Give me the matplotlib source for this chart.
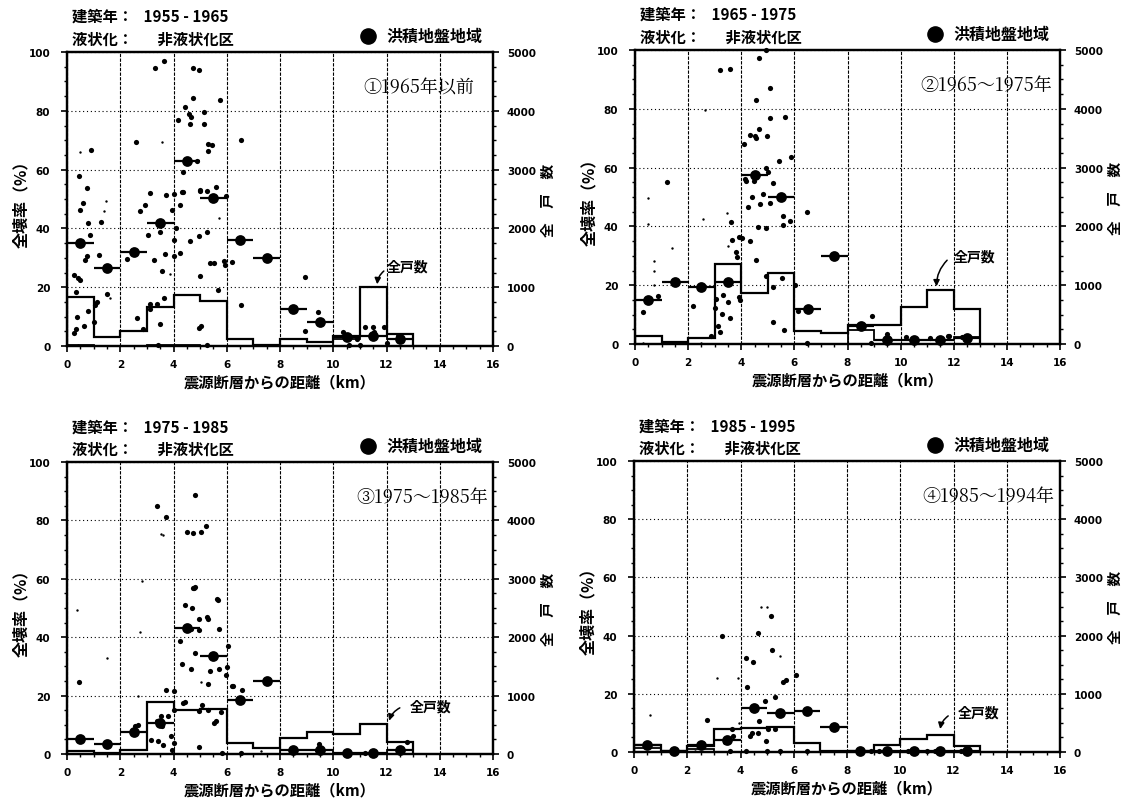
import matplotlib
matplotlib.use('Agg')
import matplotlib.pyplot as plt
from matplotlib.ticker import MultipleLocator

plt.rcParams['font.family'] = ['Noto Sans CJK JP', 'DejaVu Sans']

# ---------------- data ----------------
bin_edges = [0, 1, 2, 3, 4, 5, 6, 7, 8, 9, 10, 11, 12, 13]   # km

years = ["1955 - 1965", "1965 - 1975", "1975 - 1985", "1985 - 1995"]
period_labels = ["①1965年以前", "②1965～1975年", "③1975～1985年", "④1985～1994年"]

# mean total-collapse rate per 1-km bin (%)
mean_p1 = [35, 26.5, 32, 42, 63, 50.5, 36, 30, 12.5, 8, 3, 3.5, 2.5]
mean_p2 = [15, 21, 19.5, 21, 57.5, 50, 12, 30, 6, 1.5, 1.5, 1.5, 2]
mean_p3 = [5, 3.5, 7.5, 10.5, 43, 33.5, 18.5, 25, 1.5, 1.2, 0.5, 0.5, 1.5]
mean_p4 = [2.5, 0.2, 2.5, 4, 15, 13.5, 14, 8.5, 0.5, 0.5, 0.3, 0.5, 0.5]

# total households per bin (right axis)
house_p1 = [840, 155, 260, 670, 870, 765, 120, 20, 120, 75, 170, 1000, 200]
house_p2 = [130, 30, 100, 1360, 860, 1205, 220, 185, 315, 325, 625, 920, 600]
house_p3 = [50, 15, 60, 885, 750, 770, 185, 100, 270, 375, 345, 520, 200]
house_p4 = [120, 10, 100, 395, 420, 435, 150, 25, 15, 125, 225, 300, 100]

# households in diluvial-ground area per bin (right axis)
dil_p1 = [10, 5, 5, 10, 10, 5, 5, 5, 5, 5, 120, 170, 120]
dil_p2 = [5, 5, 5, 5, 5, 5, 5, 5, 240, 60, 75, 75, 125]
dil_p3 = [5, 5, 5, 5, 5, 5, 5, 5, 75, 75, 25, 25, 75]
dil_p4 = [70, 5, 60, 5, 5, 5, 5, 5, 5, 5, 5, 5, 5]

# district points: distance (km), total-collapse rate (%)
p1_x = [3.31, 3.66, 4.75, 4.97, 4.75, 5.73, 4.44, 5.15, 4.16, 4.6, 4.65, 4.62, 5.15, 6.53, 5.31, 5.45, 5.31,
        2.6, 0.89, 0.45, 0.74, 3.12, 3.71, 4.0, 4.37, 4.37, 5.0, 5.25, 5.6, 5.98, 4.9,
        0.59, 0.48, 0.78, 1.28, 0.86, 0.74, 0.69, 0.26, 0.41, 0.49, 1.19, 0.34, 1.49, 1.12, 1.07, 0.78,
        0.38, 1.02, 0.34, 0.65, 0.26,
        2.24, 2.47, 2.74, 2.93, 3.28, 3.5, 3.06, 3.68, 3.56, 4.0, 3.94, 4.09, 4.0, 3.12, 3.12, 3.39, 3.65,
        3.5, 2.62, 2.87, 3.4,
        4.25, 4.31, 4.25, 4.62, 4.94, 5.25, 5.0, 5.38, 5.53, 5.88, 5.94, 5.69, 5.0, 4.97, 5.05, 5.25,
        6.21, 6.53, 8.95, 8.95, 9.42, 9.55, 10.36, 11.2, 11.54, 11.89, 10.89, 12.43, 12.0, 11.49, 10.6, 11.0]
p1_y = [94.4, 97, 94.4, 93.9, 84.5, 83.6, 81.4, 79.7, 76.8, 78.9, 78, 75.4, 75.4, 70, 68.7, 68.2, 66.4,
        69.3, 66.8, 57.7, 53.6, 52, 51.4, 51.8, 52.5, 59.3, 53, 52.6, 54, 50.9, 62.8,
        48.6, 46.3, 42, 42.3, 37.9, 30.5, 29.2, 24.1, 23.2, 22.6, 30.8, 18.5, 17.7, 15.1, 14, 12,
        9.8, 8.1, 5.8, 6.9, 4.3,
        29.6, 32.8, 45.8, 48.1, 29.4, 38.7, 37.8, 31.3, 25.6, 30.5, 46.4, 40.1, 36, 14.3, 12.6, 14.2, 16.2,
        7.5, 9.4, 5.8, 0.3,
        31.5, 52.5, 47.8, 35.8, 37.5, 38.7, 52.8, 28.4, 28.4, 29, 27.6, 19, 23.7, 6.2, 6.9, 0.3,
        28.7, 14, 23.6, 5.2, 11.5, 7.5, 4.6, 6.3, 4.9, 6.3, 2.4, 3.3, 1, 6.6, 0.3, 0.5]
p1_sx = [3.55, 0.49, 1.47, 1.4, 1.62, 5.7, 3.88, 0.4]
p1_sy = [69.3, 65.9, 49.2, 46, 16.2, 43.5, 24.5, 0.2]

p2_x = [3.2, 3.58, 4.68, 4.92, 5.08, 4.56, 5.65, 5.08, 4.68, 4.33, 4.52, 4.57, 4.96, 4.12, 5.87, 5.43, 4.93,
        5.0, 5.21, 4.18, 1.19, 4.83,
        4.14, 4.49, 4.39, 4.71, 5.08, 5.58, 5.84, 5.56, 4.24, 4.64, 4.92, 4.33, 4.02, 4.56, 4.92, 5.52, 5.21,
        5.18, 5.62, 6.02, 6.46, 6.15, 6.46,
        3.61, 3.66, 3.92, 3.79, 3.83, 3.3, 3.51, 3.05, 3.02, 3.26, 3.58, 3.14, 3.2, 2.85, 3.93, 3.95, 2.2,
        0.31, 0.88,
        8.91, 8.45, 9.5, 9.45, 10.2, 11.1, 11.47, 11.82, 12.3, 12.47, 8.9, 10.5, 10.48, 11.48, 11.8]
p2_y = [93.2, 93.5, 97.3, 100, 87, 82.9, 77.2, 76.8, 73.1, 71.1, 70.6, 70, 70.9, 68, 63.5, 62.3, 59.9,
        58.5, 54.7, 55.5, 55.2, 51,
        56, 55.5, 49.9, 47.6, 48, 43.6, 41.9, 40.6, 46.5, 39.9, 39.4, 35.1, 35.9, 28.6, 23, 22.6, 19.3,
        7.4, 4.8, 20.1, 44.8, 11.3, 0.5,
        41.4, 35.5, 36.3, 31.4, 29.5, 16.8, 14.4, 15.3, 12.1, 10.2, 8.7, 6.2, 4.2, 2.8, 15.9, 15, 13,
        11, 16.4,
        9.6, 6.5, 3.4, 1, 2.3, 1.9, 1.9, 2.6, 2.3, 2.3, 0.3, 1, 0.6, 1.7, 2.8]
p2_sx = [2.64, 0.5, 3.45, 3.49, 2.55, 1.39, 0.73, 0.73, 0.73, 0.5, 0.3, 2.5]
p2_sy = [79.6, 49.6, 44.4, 33.2, 42.5, 32.8, 28.3, 24.7, 20, 40.8, 0.2, 0.3]

p3_x = [3.37, 3.72, 4.82, 4.5, 4.72, 5.04, 5.21, 4.75, 4.82, 5.65, 0.46, 2.68, 4.44, 4.69, 4.77, 4.94, 5.25,
        5.31, 5.69, 5.71, 4.25, 4.67, 4.81, 4.96, 4.31, 4.65, 5.38, 5.71, 6.0, 5.97, 6.04, 5.31, 4.35,
        4.44, 5.06, 4.97, 5.31, 5.78, 5.6, 5.52, 4.97, 5.83, 6.19, 6.25, 6.59, 6.53, 3.71, 4.03, 4.0,
        3.81, 3.53, 3.37, 3.55, 3.16, 3.41, 3.62, 3.9, 4.0, 3.96, 2.56, 9.48, 9.58, 12.77, 8.5, 9.4,
        10.5, 11.2, 11.5, 12.5]
p3_y = [85, 81.2, 88.6, 76.1, 75.8, 76.1, 78.2, 57, 57.1, 53, 24.6, 9.9, 51, 49.9, 56.8, 46.2, 47,
        46.3, 52.8, 42.8, 38.7, 42.9, 34.5, 42.5, 30.7, 29.1, 28.5, 29.1, 29.7, 27.2, 37.1, 23.9, 17.5,
        17.8, 16.8, 14.8, 15, 14.5, 11.4, 10.7, 2.5, 0.5, 23.2, 23.2, 21.9, 0.3, 21.9, 21.5, 15.2,
        13.1, 12.9, 11.4, 9.7, 4.9, 4.6, 3.2, 6.1, 3.6, 1.4, 9.7, 3.4, 1.7, 4, 1.5, 1.2,
        0.3, 0.5, 0.3, 1.0]
p3_sx = [3.53, 3.6, 2.81, 0.36, 1.49, 2.74, 2.67, 5.04, 7.3]
p3_sy = [75.3, 75, 59.4, 49.4, 32.8, 41.7, 19.7, 24.5, 1]

p4_x = [2.76, 3.32, 4.21, 4.46, 4.26, 5.15, 4.65, 5.18, 5.61, 5.7, 6.08, 5.3, 4.92, 4.71, 4.52, 3.67, 3.71,
        4.36, 4.42, 4.67, 4.96, 5.05, 5.28, 3.52, 3.4, 3.6, 4.2, 5.0, 5.5, 6.5, 8.9, 9.2, 10.3, 11.0,
        11.3, 12.3]
p4_y = [11.1, 40, 32.3, 30.8, 22.2, 46.8, 40.8, 35.2, 24, 24.8, 26.6, 19, 17.6, 10.8, 15, 7.9, 5.4,
        5.6, 6.6, 6.4, 3.9, 7.9, 7.9, 4.5, 3.5, 0.3, 0.2, 0.2, 0.2, 0.3, 0.2, 0.3, 0.2, 0.2,
        0.3, 0.3]
p4_sx = [0.6, 3.13, 3.92, 4.76, 5.0, 5.49, 3.96, 1.5, 2.3]
p4_sy = [12.7, 25.3, 25.3, 49.9, 49.9, 33, 10, 0.2, 0.5]

# annotation "全戸数": text centre, arrow start and arrow tip (km, %)
note_text_xy = [(12.8, 27.2), (12.8, 29.6), (13.65, 16.1), (12.95, 13.7)]
note_start_xy = [(11.9, 25.5), (11.75, 28.5), (12.5, 15.8), (11.8, 12.4)]
note_tip_xy = [(11.65, 21), (11.35, 19.6), (12.1, 11.4), (11.5, 7.9)]

# ---------------- drawing ----------------
W, H = 1136, 804
fig = plt.figure(figsize=(W / 100, H / 100), dpi=100)

# axes rectangles in pixels: left, top, right, bottom
rects = [(67, 53, 493, 347), (635, 51, 1060, 345), (67, 463, 493, 755), (634, 462, 1060, 753)]
label_x = [15.3, 15.7, 15.8, 15.8]

panels = [
    (mean_p1, house_p1, dil_p1, p1_x, p1_y, p1_sx, p1_sy),
    (mean_p2, house_p2, dil_p2, p2_x, p2_y, p2_sx, p2_sy),
    (mean_p3, house_p3, dil_p3, p3_x, p3_y, p3_sx, p3_sy),
    (mean_p4, house_p4, dil_p4, p4_x, p4_y, p4_sx, p4_sy),
]

bold = dict(fontweight='bold')

for i, (rect, pdata) in enumerate(zip(rects, panels)):
    l, t, r, b = rect
    ax = fig.add_axes([l / W, 1 - b / H, (r - l) / W, (b - t) / H])
    mean, house, dil, px, py, sx, sy = pdata

    ax.set_xlim(0, 16)
    ax.set_ylim(0, 100)
    ax.xaxis.set_major_locator(MultipleLocator(2))
    ax.xaxis.set_minor_locator(MultipleLocator(0.5))
    ax.yaxis.set_major_locator(MultipleLocator(20))
    ax.yaxis.set_minor_locator(MultipleLocator(5))
    ax.tick_params(axis='both', which='major', direction='out', length=4, width=1.2, labelsize=7.5)
    ax.tick_params(axis='y', which='major', pad=8)
    ax.tick_params(axis='x', which='major', pad=5.5)
    ax.tick_params(axis='both', which='minor', direction='out', length=2.5, width=1)
    for lab in ax.get_xticklabels() + ax.get_yticklabels():
        lab.set_fontweight('bold')
        lab.set_family('DejaVu Sans')
    for sp in ax.spines.values():
        sp.set_linewidth(1.6)

    ax.set_axisbelow(True)
    ax.xaxis.grid(True, which='major', linestyle=(0, (3, 1.2)), color='black', lw=0.8)
    ax.yaxis.grid(True, which='major', linestyle=(0, (1, 2.5)), color='black', lw=0.8)

    # district points
    ax.scatter(px, py, s=14, color='black', zorder=3, clip_on=False, linewidths=0)
    ax.scatter(sx, sy, s=3, color='black', zorder=3, clip_on=False, linewidths=0)

    # bin means
    centers = [(bin_edges[k] + bin_edges[k + 1]) / 2 for k in range(len(mean))]
    ax.hlines(mean, bin_edges[:-1], bin_edges[1:], color='black', lw=1.6, zorder=4)
    ax.scatter(centers, mean, s=60, color='black', zorder=5, clip_on=False, linewidths=0)

    ax.set_ylabel('全壊率（%）', fontsize=11.5, fontweight='bold', labelpad=0)
    ax.set_xlabel('震源断層からの距離（km）', fontsize=11, fontweight='bold', labelpad=3)

    # right axis: households
    ax2 = ax.twinx()
    ax2.set_ylim(0, 5000)
    ax2.yaxis.set_major_locator(MultipleLocator(1000))
    ax2.yaxis.set_minor_locator(MultipleLocator(250))
    ax2.tick_params(axis='y', which='major', direction='out', length=4, width=1.2, labelsize=7.5, pad=6)
    ax2.tick_params(axis='y', which='minor', direction='out', length=2.5, width=1)
    for lab in ax2.get_yticklabels():
        lab.set_fontweight('bold')
        lab.set_family('DejaVu Sans')
    for sp in ax2.spines.values():
        sp.set_linewidth(1.6)
    ax2.stairs(house, bin_edges, baseline=0, color='black', lw=1.6)
    ax2.stairs(dil, bin_edges, baseline=0, color='black', lw=1.3)
    ax2.set_ylabel('全　戸　数', fontsize=10.5, fontweight='bold', labelpad=3)

    # headers
    ax.text(0.012, 1.123, '建築年：   ' + years[i], transform=ax.transAxes, fontsize=11,
            va='center', ha='left', **bold)
    ax.text(0.012, 1.045, '液状化：       非液状化区', transform=ax.transAxes, fontsize=11,
            va='center', ha='left', **bold)
    ax.scatter([0.707], [1.055], s=120, color='black', transform=ax.transAxes, clip_on=False)
    ax.text(0.75, 1.055, '洪積地盤地域', transform=ax.transAxes, fontsize=11.5,
            va='center', ha='left', **bold)

    # period label
    ax.text(label_x[i], 88, period_labels[i], fontsize=13, ha='right', va='center',
            family=['Noto Serif CJK JP', 'Noto Sans CJK JP', 'DejaVu Sans'])

    # "全戸数" annotation
    ax.text(note_text_xy[i][0], note_text_xy[i][1], '全戸数', fontsize=10, fontweight='bold',
            ha='center', va='center')
    ax.annotate('', xy=note_tip_xy[i], xytext=note_start_xy[i],
                arrowprops=dict(arrowstyle='-|>', color='black', lw=1.1,
                                connectionstyle='arc3,rad=0.2', shrinkA=0, shrinkB=0,
                                mutation_scale=9))

fig.savefig('out.png', dpi=100)
